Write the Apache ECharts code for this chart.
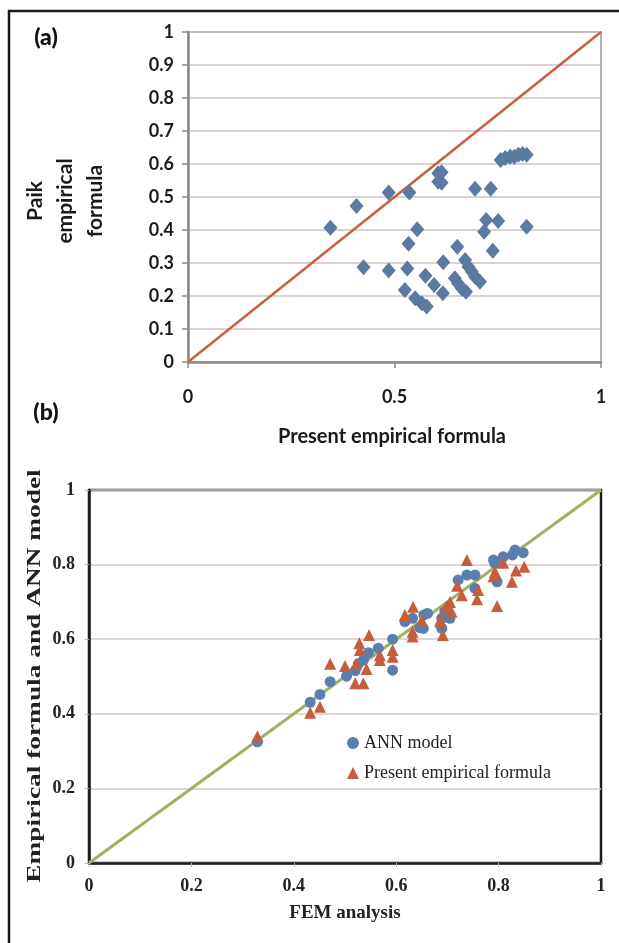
<!DOCTYPE html>
<html>
<head>
<meta charset="utf-8">
<script src="https://cdn.jsdelivr.net/npm/echarts@6/dist/echarts.min.js"></script>
<style>
html,body{margin:0;padding:0;background:#fff;}
#c{width:619px;height:943px;}
</style>
</head>
<body>
<div id="c"></div>
<script>
// ---------- Panel (a): Paik vs present empirical formula ----------
const paikPresentX = [0.345,0.408,0.486,0.536,0.555,0.534,0.425,0.486,0.531,0.525,0.575,0.596,0.550,0.566,0.578,0.606,0.606,0.614,0.614,0.695,0.733,0.757,0.768,0.780,0.790,0.800,0.810,0.820,0.722,0.751,0.717,0.820,0.738,0.652,0.618,0.617,0.671,0.679,0.687,0.695,0.707,0.646,0.654,0.663,0.673];
const paikPresentY = [0.407,0.473,0.514,0.514,0.402,0.358,0.287,0.277,0.283,0.218,0.261,0.233,0.193,0.178,0.168,0.572,0.546,0.575,0.543,0.525,0.525,0.612,0.618,0.622,0.622,0.628,0.630,0.628,0.430,0.427,0.395,0.410,0.337,0.349,0.302,0.208,0.309,0.289,0.274,0.258,0.243,0.254,0.238,0.223,0.213];
const diagA = [[0,0],[1,1]];

// ---------- Panel (b): FEM vs formula / ANN ----------
const annX = [0.329,0.432,0.451,0.471,0.503,0.520,0.526,0.536,0.546,0.565,0.593,0.593,0.617,0.632,0.646,0.653,0.661,0.654,0.689,0.689,0.695,0.705,0.721,0.738,0.754,0.754,0.790,0.793,0.797,0.809,0.827,0.832,0.848];
const annY = [0.325,0.431,0.452,0.486,0.501,0.516,0.534,0.544,0.564,0.576,0.600,0.517,0.647,0.656,0.631,0.629,0.669,0.665,0.656,0.629,0.674,0.656,0.759,0.772,0.772,0.736,0.812,0.803,0.754,0.821,0.826,0.839,0.832];
const presX = [0.329,0.432,0.451,0.471,0.500,0.520,0.536,0.522,0.542,0.528,0.529,0.547,0.568,0.568,0.593,0.593,0.617,0.633,0.632,0.632,0.650,0.687,0.691,0.698,0.686,0.705,0.708,0.719,0.728,0.738,0.760,0.758,0.790,0.793,0.797,0.809,0.826,0.834,0.850];
const presY = [0.340,0.403,0.419,0.534,0.528,0.482,0.482,0.534,0.520,0.589,0.571,0.611,0.557,0.544,0.571,0.553,0.665,0.687,0.620,0.607,0.651,0.647,0.611,0.687,0.651,0.700,0.674,0.743,0.718,0.812,0.732,0.707,0.769,0.781,0.689,0.805,0.754,0.784,0.794];
const diagB = [[0,0],[1,1]];

const ticksA = { x: ['0','0.5','1'], yInterval: 0.1 };
const ticksB = { interval: 0.2 };

const zip = (xs, ys) => xs.map((x, i) => [x, ys[i]]);

const chart = echarts.init(document.getElementById('c'), null, {renderer:'canvas'});
const fontA = 'Lato, "Open Sans", sans-serif';
const fontB = '"Liberation Serif", "DejaVu Serif", serif';

const option = {
  backgroundColor: '#fff',
  animation: false,
  grid: [
    {left:188, top:32, width:413, height:330, show:true, borderColor:'#9a9a9a', borderWidth:1.5, backgroundColor:'transparent'},
    {left:89, top:490, width:512, height:373, show:true, borderColor:'#1e1e1e', borderWidth:2.5, backgroundColor:'transparent'}
  ],
  xAxis: [
    {gridIndex:0, type:'value', min:0, max:1, interval:0.5,
     axisLine:{show:true, onZero:false, lineStyle:{color:'#8a8a8a', width:2.5}},
     axisTick:{show:true, length:6, lineStyle:{color:'#8a8a8a', width:1.5}},
     splitLine:{show:false},
     axisLabel:{margin:26, color:'#1a1a1a', fontFamily:fontA, fontWeight:'bold', fontSize:18,
       formatter:(v)=> { const i = [0,0.5,1].indexOf(v); return i>=0 ? ticksA.x[i] : ''; }}},
    {gridIndex:1, type:'value', min:0, max:1, interval:ticksB.interval,
     axisLine:{show:true, onZero:false, lineStyle:{color:'#1e1e1e', width:2.5}},
     axisTick:{show:true, length:4, inside:false, lineStyle:{color:'#bbbbbb', width:1}},
     splitLine:{show:false},
     axisLabel:{margin:14, color:'#222', fontFamily:fontB, fontWeight:'bold', fontSize:18,
       formatter:(v)=> String(Math.round(v*10)/10)}}
  ],
  yAxis: [
    {gridIndex:0, type:'value', min:0, max:1, interval:ticksA.yInterval,
     axisLine:{show:true, onZero:false, lineStyle:{color:'#8a8a8a', width:2.5}},
     axisTick:{show:true, length:6, lineStyle:{color:'#8a8a8a', width:1.5}},
     splitLine:{show:true, lineStyle:{color:'#cbc3c3', width:1.5}},
     axisLabel:{margin:14, color:'#1a1a1a', fontFamily:fontA, fontWeight:'bold', fontSize:18,
       formatter:(v)=> String(Math.round(v*10)/10)}},
    {gridIndex:1, type:'value', min:0, max:1, interval:ticksB.interval,
     axisLine:{show:true, onZero:false, lineStyle:{color:'#1e1e1e', width:2.5}},
     axisTick:{show:true, length:4, lineStyle:{color:'#bbbbbb', width:1}},
     splitLine:{show:true, lineStyle:{color:'#d7c6c6', width:1.5}},
     axisLabel:{margin:14, color:'#222', fontFamily:fontB, fontWeight:'bold', fontSize:18,
       formatter:(v)=> String(Math.round(v*10)/10)}}
  ],
  legend: {
    show:true, orient:'vertical', left:342, top:729, itemGap:12,
    itemWidth:12, itemHeight:12,
    textStyle:{fontFamily:fontB, fontSize:18, color:'#222'},
    data:[
      {name:'ANN model', icon:'circle', itemStyle:{color:'#5a7fae'}},
      {name:'Present empirical formula', icon:'triangle', itemStyle:{color:'#c65d3c'}}
    ]
  },
  series: [
    {type:'line', xAxisIndex:0, yAxisIndex:0, data:diagA, symbol:'none', silent:true,
     lineStyle:{color:'#c6603e', width:2.5}, z:2},
    {type:'scatter', xAxisIndex:0, yAxisIndex:0, data:zip(paikPresentX, paikPresentY),
     symbol:'diamond', symbolSize:[14,16], itemStyle:{color:'#5b7aa1', opacity:1}, z:3},
    {type:'line', xAxisIndex:1, yAxisIndex:1, data:diagB, symbol:'none', silent:true,
     lineStyle:{color:'#9db363', width:3}, z:2},
    {name:'ANN model', type:'scatter', xAxisIndex:1, yAxisIndex:1, data:zip(annX, annY),
     symbol:'circle', symbolSize:11, itemStyle:{color:'#5a7fae', opacity:1}, z:3},
    {name:'Present empirical formula', type:'scatter', xAxisIndex:1, yAxisIndex:1, data:zip(presX, presY),
     symbol:'triangle', symbolSize:12, itemStyle:{color:'#c65d3c', opacity:1}, z:4}
  ],
  graphic: [
    {type:'rect', shape:{x:9, y:11, width:620, height:960}, style:{fill:'none', stroke:'#1a1a1a', lineWidth:2.5}, silent:true, z:0},
    {type:'text', x:46, y:38, style:{text:'(a)', fontFamily:fontA, fontWeight:900, fontSize:23, fill:'#111', textAlign:'center', textVerticalAlign:'middle'}},
    {type:'text', x:46, y:413, style:{text:'(b)', fontFamily:fontA, fontWeight:900, fontSize:23, fill:'#111', textAlign:'center', textVerticalAlign:'middle'}},
    {type:'text', x:392, y:437, style:{text:'Present empirical formula', fontFamily:fontA, fontWeight:'bold', fontSize:20, fill:'#1a1a1a', textAlign:'center', textVerticalAlign:'middle'}},
    {type:'text', x:65, y:201, rotation:Math.PI/2, style:{text:'Paik\nempirical\nformula', fontFamily:fontA, fontWeight:'bold', fontSize:21, lineHeight:30, fill:'#1a1a1a', textAlign:'center', textVerticalAlign:'middle'}},
    {type:'text', x:345, y:913, style:{text:'FEM analysis', fontFamily:fontB, fontWeight:'bold', fontSize:19, fill:'#222', textAlign:'center', textVerticalAlign:'middle'}},
    {type:'text', x:35, y:676, rotation:Math.PI/2, scaleX:1.52, style:{text:'Empirical formula and ANN model', fontFamily:fontB, fontWeight:'bold', fontSize:18, fill:'#222', textAlign:'center', textVerticalAlign:'middle'}}
  ]
};
chart.setOption(option);
</script>
</body>
</html>
